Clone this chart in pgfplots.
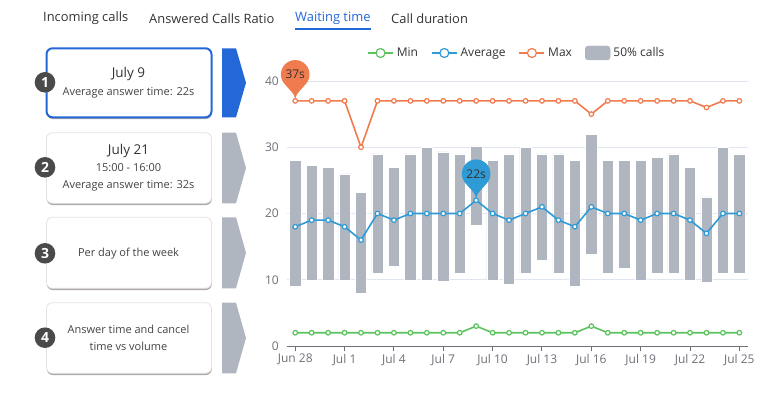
\documentclass[border=0pt]{standalone}
\usepackage{fontspec}
\setmainfont{Open Sans}
\usepackage{pgfplots}
\usepackage{pgfplotstable}
\pgfplotsset{compat=1.18}
\usetikzlibrary{shadows}
\definecolor{orangeC}{HTML}{EF7B4F}
\definecolor{blueC}{HTML}{2E9AD6}
\definecolor{greenC}{HTML}{5BC35C}
\definecolor{barC}{HTML}{B0B6C0}
\definecolor{gridC}{HTML}{E0E6F1}
\definecolor{axisC}{HTML}{6E7079}
\definecolor{tabBlue}{HTML}{2468D8}
\definecolor{textC}{HTML}{333333}
\definecolor{subC}{HTML}{444444}
\definecolor{numC}{HTML}{4A4A4A}
\definecolor{cardB}{HTML}{E6E2E2}
\definecolor{shadC}{HTML}{6E6464}

\pgfdeclareplotmark{pin}{%
  \pgfpathcircle{\pgfqpoint{0pt}{26.5pt}}{14.3pt}%
  \pgfpathmoveto{\pgfqpoint{-10.1pt}{16.4pt}}%
  \pgfpathcurveto{\pgfqpoint{-6pt}{11pt}}{\pgfqpoint{-1pt}{8pt}}{\pgfqpoint{0pt}{2pt}}%
  \pgfpathcurveto{\pgfqpoint{1pt}{8pt}}{\pgfqpoint{6pt}{11pt}}{\pgfqpoint{10.1pt}{16.4pt}}%
  \pgfpathclose
  \pgfusepathqfill
}

\pgfplotstableread{
x lo hi avg mx mn
0 9 28 18 37 2
1 10 27.3 19 37 2
2 10 27 19 37 2
3 10 26 18 37 2
4 8 23.2 16 30 2
5 11 29 20 37 2
6 12 27 19 37 2
7 10 29 20 37 2
8 10 30 20 37 2
9 9.8 29.3 20 37 2
10 11 29 20 37 2
11 18.3 30.2 22 37 3
12 10 28 20 37 2
13 9.3 29 19 37 2
14 11 30 20 37 2
15 13 29 21 37 2
16 11 29 19 37 2
17 9 28 18 37 2
18 13.8 32 21 35 3
19 11 28 20 37 2
20 11.8 28 20 37 2
21 10 28 19 37 2
22 11 28.5 20 37 2
23 11 29 20 37 2
24 10 27 19 37 2
25 9.6 22.5 17 36 2
26 11 30 20 37 2
27 11 29 20 37 2
}\data

\begin{document}
\begin{tikzpicture}[x=1pt,y=1pt]
\path (0,0) rectangle (773,399);
% tabs
\begin{scope}[every node/.style={anchor=west, inner sep=0pt, font=\fontsize{12.9}{15}\selectfont}]
\node[text=textC] at (43,380.5) {Incoming calls};
\node[text=textC] at (149,380.5) {Answered Calls Ratio};
\node[text=tabBlue] at (295,380.5) {Waiting time};
\node[text=textC] at (391,380.5) {Call duration};
\end{scope}
\fill[tabBlue] (295,368.5) rectangle (371,370.5);

% cards
\newcommand{\card}[3]{% top bottom style
  \draw[#3, rounded corners=6pt, fill=white, drop shadow={shadow xshift=0.3pt, shadow yshift=-1.8pt, opacity=0.55, fill=shadC}] (46.5,#2) rectangle (211.5,#1);
}
\card{350.7}{281.7}{tabBlue, line width=2pt}
\card{266.3}{195.7}{cardB, line width=0.8pt}
\card{181.7}{110.7}{cardB, line width=0.8pt}
\card{96.3}{25.7}{cardB, line width=0.8pt}
% arrows
\fill[tabBlue] (222,350.7) -- (236,350.7) -- (246,316.2) -- (236,281.7) -- (222,281.7) -- cycle;
\fill[barC] (222,266.3) -- (236,266.3) -- (246,231) -- (236,195.7) -- (222,195.7) -- cycle;
\fill[barC] (222,181.7) -- (236,181.7) -- (246,146.2) -- (236,110.7) -- (222,110.7) -- cycle;
\fill[barC] (222,96.3) -- (236,96.3) -- (246,61) -- (236,25.7) -- (222,25.7) -- cycle;
% numbers
\foreach \yy/\n in {316.7/1, 231.7/2, 145.7/3, 61.3/4}{
  \fill[numC] (45,\yy) circle (10.3);
  \node[text=white, font=\fontsize{14}{16}\selectfont\bfseries, inner sep=0pt] at (45,\yy) {\n};
}
\begin{scope}[every node/.style={inner sep=0pt, anchor=center}]
\node[text=textC, font=\fontsize{13.5}{16}\selectfont] at (128.5,324.7) {July 9};
\node[text=subC, font=\fontsize{11}{13}\selectfont] at (128.5,306.7) {Average answer time: 22s};
\node[text=textC, font=\fontsize{13.5}{16}\selectfont] at (128.5,248.3) {July 21};
\node[text=subC, font=\fontsize{11}{13}\selectfont] at (128.5,231.3) {15:00 - 16:00};
\node[text=subC, font=\fontsize{11}{13}\selectfont] at (128.5,213) {Average answer time: 32s};
\node[text=subC, font=\fontsize{11}{13}\selectfont] at (128.5,145.7) {Per day of the week};
\node[text=subC, font=\fontsize{11}{13}\selectfont] at (128.5,70) {Answer time and cancel};
\node[text=subC, font=\fontsize{11}{13}\selectfont] at (128.5,52.3) {time vs volume};
\end{scope}

% bars axis
\begin{axis}[at={(287pt,53pt)}, anchor=south west, scale only axis,
  width=460.6pt, height=265pt, xmin=-0.5, xmax=27.5, ymin=0, ymax=40,
  ybar stacked, bar width=11.3pt, axis line style={draw=none},
  xtick=\empty, ytick={10,20,30,40}, yticklabels={,,,},
  ymajorgrids, major grid style={gridC, line width=0.8pt},
  major tick length=0pt]
\addplot[draw=none, fill=none] table[x=x, y=lo] {\data};
\addplot[fill=barC, draw=white, line width=0.5pt] table[x=x, y expr=\thisrow{hi}-\thisrow{lo}] {\data};
\end{axis}

% lines axis
\begin{axis}[at={(287pt,53pt)}, anchor=south west, scale only axis,
  width=460.6pt, height=265pt, xmin=-0.5, xmax=27.5, ymin=0, ymax=40,
  axis x line=bottom, axis y line=left, axis line style={-},
  y axis line style={draw=none}, x axis line style={axisC, line width=1pt},
  xtick={0,3,...,27},
  xticklabels={Jun 28,Jul 1,Jul 4,Jul 7,Jul 10,Jul 13,Jul 16,Jul 19,Jul 22,Jul 25},
  ytick={0,10,20,30,40}, ytick style={draw=none},
  xtick style={axisC, line width=1pt}, tick align=outside, major tick length=5pt,
  ticklabel style={font=\fontsize{12}{14}\selectfont, text=axisC},
  /pgf/number format/assume math mode=true,
  yticklabel style={inner sep=0pt, anchor=east, xshift=-3pt},
  xticklabel style={inner sep=0pt, anchor=north, yshift=-3pt},
  legend columns=4,
  legend style={draw=none, fill=none, at={(0.1737,1.1057)}, anchor=west, inner sep=0pt,
    font=\fontsize{12}{14}\selectfont, text=textC,
    /tikz/every even column/.append style={column sep=10pt},
    nodes={inner xsep=3pt}},
  legend image code/.code={\draw[mark repeat=2, mark phase=2, mark size=4.5pt] plot coordinates {(0pt,0pt) (12.5pt,0pt) (25pt,0pt)};}
  ]
\addplot[greenC, line width=1.6pt, mark=*, mark size=2.3pt, mark options={fill=white, line width=1.2pt}] table[x=x, y=mn] {\data};
\addlegendentry{Min}
\addplot[blueC, line width=1.6pt, mark=*, mark size=2.3pt, mark options={fill=white, line width=1.2pt}] table[x=x, y=avg] {\data};
\addlegendentry{Average}
\addplot[orangeC, line width=1.6pt, mark=*, mark size=2.3pt, mark options={fill=white, line width=1.2pt}] table[x=x, y=mx] {\data};
\addlegendentry{Max}
\addlegendimage{legend image code/.code={\fill[barC, rounded corners=3pt] (0pt,-7pt) rectangle (25pt,7pt);}}
\addlegendentry{50\% calls}
\addplot[forget plot, only marks, mark=pin, orangeC, nodes near coords={37s},
  nodes near coords style={anchor=center, yshift=26.5pt, font=\fontsize{12}{14}\selectfont, text=textC}] coordinates {(0,37)};
\addplot[forget plot, only marks, mark=pin, blueC, nodes near coords={22s},
  nodes near coords style={anchor=center, yshift=26.5pt, font=\fontsize{12}{14}\selectfont, text=textC}] coordinates {(11,22)};
\end{axis}
\end{tikzpicture}
\end{document}
